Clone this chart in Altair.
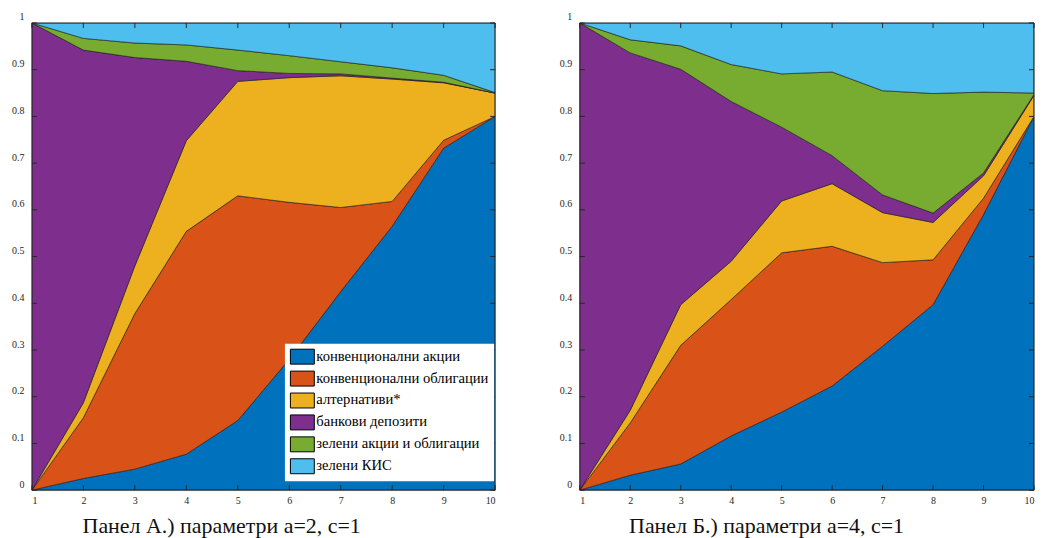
import altair as alt
import pandas as pd

FONT = "Liberation Serif"
INK = "#262626"

steps = [1, 2, 3, 4, 5, 6, 7, 8, 9, 10]
y_ticks = [0, 0.1, 0.2, 0.3, 0.4, 0.5, 0.6, 0.7, 0.8, 0.9, 1]

series = [
    "конвенционални акции",
    "конвенционални облигации",
    "алтернативи*",
    "банкови депозити",
    "зелени акции и облигации",
    "зелени КИС",
]
colors = ["#0072BD", "#D95319", "#EDB120", "#7E2F8E", "#77AC30", "#4DBEEE"]

# Panel A (a=2, c=1) shares per step
a_conv_stocks = [0, 0.025, 0.045, 0.077, 0.149, 0.280, 0.425, 0.565, 0.732, 0.800]
a_conv_bonds  = [0, 0.130, 0.333, 0.477, 0.481, 0.336, 0.180, 0.053, 0.017, 0.000]
a_alternat    = [0, 0.032, 0.102, 0.194, 0.245, 0.267, 0.282, 0.262, 0.123, 0.050]
a_deposits    = [1, 0.755, 0.446, 0.170, 0.023, 0.009, 0.004, 0.002, 0.001, 0.000]
a_green_sb    = [0, 0.025, 0.031, 0.035, 0.044, 0.038, 0.026, 0.022, 0.015, 0.001]
a_green_cis   = [0, 0.033, 0.043, 0.047, 0.058, 0.070, 0.083, 0.096, 0.112, 0.149]

# Panel B (a=4, c=1) shares per step
b_conv_stocks = [0, 0.032, 0.056, 0.116, 0.167, 0.223, 0.308, 0.397, 0.590, 0.800]
b_conv_bonds  = [0, 0.112, 0.254, 0.292, 0.341, 0.299, 0.179, 0.096, 0.035, 0.000]
b_alternat    = [0, 0.027, 0.087, 0.082, 0.111, 0.134, 0.107, 0.080, 0.048, 0.045]
b_deposits    = [1, 0.765, 0.504, 0.342, 0.158, 0.060, 0.038, 0.020, 0.006, 0.002]
b_green_sb    = [0, 0.028, 0.050, 0.079, 0.114, 0.179, 0.223, 0.256, 0.173, 0.003]
b_green_cis   = [0, 0.036, 0.049, 0.089, 0.109, 0.105, 0.145, 0.151, 0.148, 0.150]

title_a = "Панел А.) параметри а=2, с=1"
title_b = "Панел Б.) параметри а=4, с=1"

H = 469


def panel(vals, title, width, title_x, legend):
    rows = []
    for k, (name, arr) in enumerate(zip(series, vals)):
        for x, v in zip(steps, arr):
            rows.append({"x": x, "share": v, "series": name, "k": k})
    df = pd.DataFrame(rows)
    xs = alt.Scale(domain=[1, 10], nice=False, zero=False)
    ys = alt.Scale(domain=[0, 1], nice=False)

    area = alt.Chart(df).mark_area(
        stroke="#1a1a1a", strokeWidth=0.6, interpolate="linear", opacity=1, clip=True
    ).encode(
        x=alt.X("x:Q", scale=xs, axis=alt.Axis(
            values=steps, format="d", domain=False, ticks=False, grid=False,
            labelFont=FONT, labelFontSize=10, labelColor=INK, labelPadding=5,
            title=title, titleFont=FONT, titleFontSize=22, titleFontWeight="normal",
            titleColor="#111111", titleX=title_x, titleY=43, titleBaseline="alphabetic",
            titleAlign="center", zindex=1)),
        y=alt.Y("share:Q", stack="zero", scale=ys, axis=alt.Axis(
            values=y_ticks, format=".1~f", domain=False, ticks=False, grid=False,
            labelFont=FONT, labelFontSize=10, labelColor=INK, labelPadding=8,
            labelBaseline="alphabetic", labelOffset=-3, title=None, zindex=1)),
        color=alt.Color("series:N", scale=alt.Scale(domain=series, range=colors), legend=legend),
        order=alt.Order("k:Q", sort="ascending"),
    )

    tx = pd.DataFrame({"x": steps})
    ty = pd.DataFrame({"share": y_ticks})
    bottom = alt.Chart(tx).mark_rule(color=INK, strokeWidth=1).encode(
        x=alt.X("x:Q", scale=xs), y=alt.value(H), y2=alt.value(H - 5))
    top = alt.Chart(tx).mark_rule(color=INK, strokeWidth=1).encode(
        x=alt.X("x:Q", scale=xs), y=alt.value(0), y2=alt.value(5))
    left = alt.Chart(ty).mark_rule(color=INK, strokeWidth=1).encode(
        y=alt.Y("share:Q", scale=ys), x=alt.value(0), x2=alt.value(5))
    right = alt.Chart(ty).mark_rule(color=INK, strokeWidth=1).encode(
        y=alt.Y("share:Q", scale=ys), x=alt.value(width - 5), x2=alt.value(width))
    frame = alt.Chart(pd.DataFrame({"a": [0]})).mark_rect(
        filled=False, stroke=INK, strokeWidth=1
    ).encode(x=alt.value(0), x2=alt.value(width), y=alt.value(0), y2=alt.value(H))

    return alt.layer(area, bottom, top, left, right, frame).properties(width=width, height=H)


legend_a = alt.Legend(
    orient="none", legendX=254, legendY=322, title=None,
    fillColor="white", padding=5,
    symbolType="M-1.6,-1L1.6,-1L1.6,1L-1.6,1Z", symbolSize=225, symbolOffset=4.5,
    symbolStrokeColor="black", symbolStrokeWidth=1, symbolOpacity=1,
    labelFont=FONT, labelFontSize=14.7, labelColor="black", labelOffset=6,
    labelLimit=400, rowPadding=2,
)

pa = panel([a_conv_stocks, a_conv_bonds, a_alternat, a_deposits, a_green_sb, a_green_cis],
           title_a, 465, 190, legend_a)
pb = panel([b_conv_stocks, b_conv_bonds, b_alternat, b_deposits, b_green_sb, b_green_cis],
           title_b, 456, 187, None)

chart = alt.hconcat(pa, pb, spacing=63).resolve_legend(color="independent").properties(
    padding={"left": 3, "top": 2, "right": 0, "bottom": 0}
).configure_view(stroke="transparent").configure(font=FONT)

chart.save("out.html", embed_options={"renderer": "svg", "actions": False})
